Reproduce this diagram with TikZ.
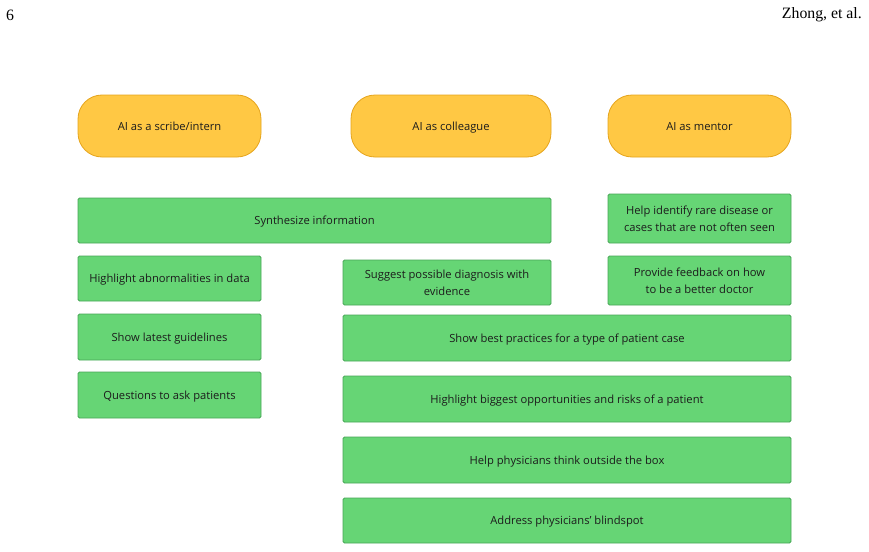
\documentclass[tikz,border=0pt]{standalone}
\usepackage{fontspec}
\setmainfont{Open Sans}
\newfontfamily\headfont{Liberation Serif}
\usetikzlibrary{positioning}
\definecolor{roleFill}{HTML}{FFC844}
\definecolor{roleLine}{HTML}{E5A41C}
\definecolor{taskFill}{HTML}{66D575}
\definecolor{taskLine}{HTML}{47A556}
\definecolor{ink}{HTML}{1C1C1C}

\begin{document}
\begin{tikzpicture}[
    x=1pt, y=-1pt,
    font=\fontsize{11.2}{17}\selectfont, text=ink,
    role/.style={draw=roleLine, fill=roleFill, line width=0.8pt, rounded corners=24pt,
      minimum height=62pt, inner sep=0pt, text depth=0pt, align=center},
    task/.style={draw=taskLine, fill=taskFill, line width=0.8pt, rounded corners=1.5pt,
      minimum height=46pt, inner sep=0pt, text depth=0pt, align=center},
    head/.style={font=\headfont\fontsize{15.8}{18}\selectfont, text=black, inner sep=0pt}
  ]
    \useasboundingbox (0,0) rectangle (869,551);
    % page header
    \node[head, anchor=west] (pnum) at (6,15) {6};
    \node[head, anchor=east] (auth) at (862,15) {Zhong, et al.};

    % roles
    \node[role, minimum width=183pt] (scribe) at (169.5,126) {AI as a scribe/intern};
    \node[role, minimum width=200pt] (colleague) at (451,126) {AI as colleague};
    \node[role, minimum width=183pt] (mentor) at (699.5,126) {AI as mentor};

    % tasks
    \node[task, minimum width=473pt, minimum height=45pt] (synth) at (314.5,220.5) {Synthesize information};
    \node[task, minimum width=183pt, minimum height=49pt] (rare) at (699.5,218.5) {Help identify rare disease or\\cases that are not often seen};
    \node[task, minimum width=183pt, minimum height=45pt] (abnorm) at (169.5,278.5) {Highlight abnormalities in data};
    \node[task, minimum width=208pt, minimum height=45pt] (diag) at (447,282.5) {Suggest possible diagnosis with\\evidence};
    \node[task, minimum width=183pt, minimum height=49pt] (feedback) at (699.5,280.5) {Provide feedback on how\\to be a better doctor};
    \node[task, minimum width=183pt] (guide) at (169.5,337) {Show latest guidelines};
    \node[task, minimum width=448pt] (best) at (567,338) {Show best practices for a type of patient case};
    \node[task, minimum width=183pt] (ask) at (169.5,395) {Questions to ask patients};
    \node[task, minimum width=448pt] (risks) at (567,399) {Highlight biggest opportunities and risks of a patient};
    \node[task, minimum width=448pt] (outside) at (567,460) {Help physicians think outside the box};
    \node[task, minimum width=448pt, minimum height=45pt] (blind) at (567,520.5) {Address physicians' blindspot};
  \end{tikzpicture}
\end{document}
